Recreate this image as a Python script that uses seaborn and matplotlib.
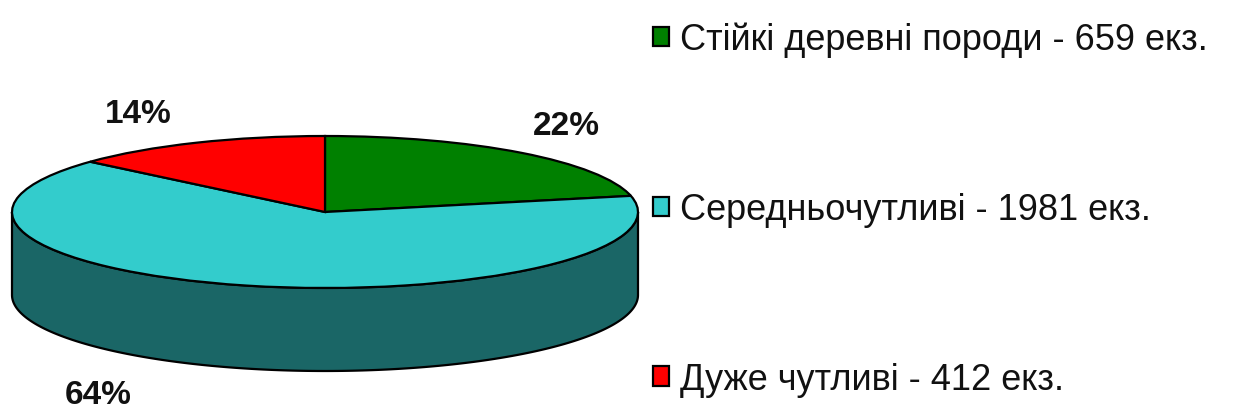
import numpy as np
import matplotlib
matplotlib.use("Agg")
import matplotlib.pyplot as plt
import matplotlib.transforms as mtransforms
import seaborn as sns

# Tree species grouped by sensitivity
categories = ["Стійкі деревні породи", "Середньочутливі", "Дуже чутливі"]
counts = [659, 1981, 412]
pct_labels = ["22%", "64%", "14%"]
unit = "екз."

sns.set_theme(style="white")
plt.rcParams["font.family"] = ["Liberation Sans", "DejaVu Sans"]

top_colors = ["#008000", "#33CCCC", "#FF0000"]
shade = 0.5  # side walls are a darker tone of the top colour

fig = plt.figure(figsize=(12.4, 4.14), dpi=100)
ax = fig.add_axes([0, 0, 1, 1])

# pie geometry in figure pixels
cx, cy, rx, ry, depth = 325, 213, 313, 76, 83
to_px = mtransforms.Affine2D().scale(rx, -ry).translate(cx, cy) + ax.transData

wedges, _ = ax.pie(counts, startangle=90, counterclock=False, colors=top_colors,
                   wedgeprops=dict(edgecolor="black", linewidth=1.6))
for w in wedges:
    w.set_transform(to_px)
    w.set_zorder(3)

# front wall of the cylinder (visible for angles between 180 and 360 degrees)
for w, col in zip(wedges, top_colors):
    for shift in (-360, 0, 360):
        a0 = max(w.theta1 + shift, 180)
        a1 = min(w.theta2 + shift, 360)
        if a1 <= a0:
            continue
        t = np.radians(np.linspace(a0, a1, 200))
        xs = cx + rx * np.cos(t)
        ys = cy - ry * np.sin(t)
        px = np.concatenate([xs, xs[::-1]])
        py = np.concatenate([ys, ys[::-1] + depth])
        rgb = np.array(matplotlib.colors.to_rgb(col)) * shade
        ax.fill(px, py, facecolor=rgb, edgecolor="black", linewidth=1.6, zorder=2)

# percentage labels
label_pos = [(566, 127), (98, 396), (138, 115)]
for (x, y), txt in zip(label_pos, pct_labels):
    ax.text(x, y, txt, ha="center", va="center", fontsize=24, fontweight="bold",
            color="#111111", zorder=4)

ax.set_xlim(0, 1240)
ax.set_ylim(414, 0)
ax.set_aspect("auto")
ax.axis("off")

legend_labels = [f"{c} - {n} {unit}" for c, n in zip(categories, counts)]
leg = ax.legend(wedges, legend_labels, loc="upper left",
                bbox_to_anchor=(653 / 1240, 1 - 23 / 414), frameon=False,
                fontsize=26, handlelength=0.45, handleheight=0.45,
                handletextpad=0.3, labelspacing=3.73, borderaxespad=0,
                borderpad=0)
for t in leg.get_texts():
    t.set_color("#111111")

fig.savefig("out.png", dpi=100, facecolor="white")
